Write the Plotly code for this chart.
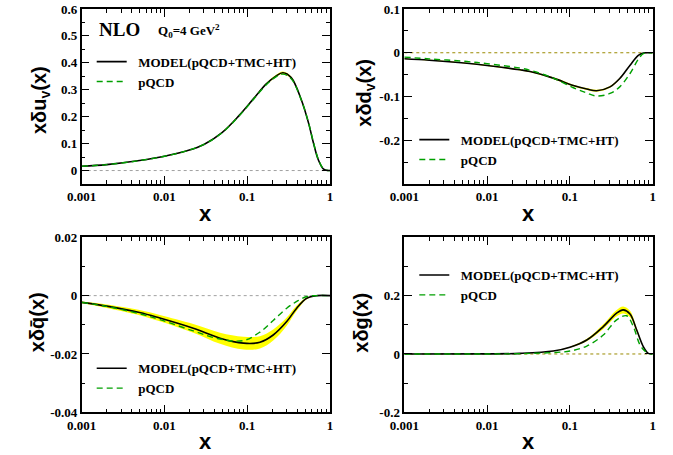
import plotly.graph_objects as go

W, H = 673, 455

# ---------------- data ----------------
# panel 1: x*delta u_v
x_u = [0.001, 0.002, 0.005, 0.01, 0.02, 0.03, 0.05, 0.08, 0.12, 0.17, 0.22, 0.27, 0.34, 0.45, 0.55, 0.63, 0.72, 0.83, 0.92, 1.0]
model_u = [0.016, 0.022, 0.037, 0.053, 0.076, 0.097, 0.142, 0.205, 0.268, 0.322, 0.350, 0.363, 0.345, 0.263, 0.177, 0.103, 0.041, 0.006, 0.0005, 0.0]
pqcd_u = [0.016, 0.022, 0.037, 0.053, 0.076, 0.097, 0.141, 0.203, 0.266, 0.319, 0.347, 0.358, 0.341, 0.262, 0.178, 0.105, 0.043, 0.007, 0.0005, 0.0]
err_u = [0.0005, 0.0006, 0.0008, 0.001, 0.0012, 0.0014, 0.0018, 0.0022, 0.0028, 0.0035, 0.004, 0.0045, 0.0045, 0.004, 0.003, 0.002, 0.0012, 0.0004, 0.0001, 0.0]

# panel 2: x*delta d_v
x_d = [0.001, 0.002, 0.0057, 0.01, 0.025, 0.033, 0.063, 0.11, 0.16, 0.21, 0.305, 0.40, 0.53, 0.67, 0.77, 0.88, 1.0]
model_d = [-0.0137, -0.017, -0.024, -0.029, -0.039, -0.043, -0.058, -0.075, -0.083, -0.087, -0.078, -0.059, -0.029, -0.006, -0.0005, 0.0, 0.0]
pqcd_d = [-0.010, -0.014, -0.020, -0.025, -0.035, -0.040, -0.058, -0.080, -0.092, -0.099, -0.093, -0.078, -0.048, -0.015, -0.002, 0.0, 0.0]
err_d = [0.0008, 0.0009, 0.001, 0.0012, 0.0014, 0.0015, 0.0018, 0.002, 0.0022, 0.0022, 0.002, 0.0018, 0.0012, 0.0005, 0.0001, 0.0, 0.0]

# panel 3: x*delta qbar
x_q = [0.001, 0.002, 0.005, 0.0088, 0.0223, 0.047, 0.09, 0.1425, 0.206, 0.30, 0.396, 0.523, 0.70, 1.0]
model_q = [-0.0023, -0.0036, -0.0058, -0.0077, -0.0112, -0.0146, -0.0163, -0.0160, -0.0135, -0.0089, -0.0043, -0.0009, 0.0, 0.0]
pqcd_q = [-0.0023, -0.0037, -0.0062, -0.0082, -0.0121, -0.0149, -0.0154, -0.0125, -0.0085, -0.0043, -0.0020, -0.0003, 0.0, 0.0]
err_q = [0.0003, 0.0006, 0.0009, 0.0011, 0.0015, 0.0019, 0.0022, 0.0021, 0.0019, 0.0014, 0.0009, 0.0003, 0.0, 0.0]

# panel 4: x*delta g
x_g = [0.001, 0.01, 0.025, 0.063, 0.10, 0.16, 0.253, 0.367, 0.44, 0.532, 0.641, 0.77, 0.885, 1.0]
model_g = [0.0, 0.0002, 0.002, 0.010, 0.023, 0.048, 0.094, 0.140, 0.151, 0.137, 0.082, 0.025, 0.002, 0.0]
err_g = [0.0, 0.0, 0.0003, 0.001, 0.002, 0.004, 0.008, 0.011, 0.012, 0.011, 0.007, 0.002, 0.0002, 0.0]
x_gp = [0.001, 0.01, 0.025, 0.063, 0.10, 0.16, 0.253, 0.367, 0.484, 0.583, 0.703, 0.82, 0.92, 1.0]
pqcd_g = [0.0, 0.0, 0.001, 0.005, 0.010, 0.027, 0.065, 0.117, 0.131, 0.094, 0.031, 0.008, 0.001, 0.0]

x_ticks = [0.001, 0.01, 0.1, 1]
x_ticktext = ["0.001", "0.01", "0.1", "1"]

panels = [
    dict(x=x_u, m=model_u, e=err_u, xp=x_u, p=pqcd_u, yr=[-0.05, 0.6],
         yt=[0, 0.1, 0.2, 0.3, 0.4, 0.5, 0.6], ytt=["0", "0.1", "0.2", "0.3", "0.4", "0.5", "0.6"],
         ym=[0.05, 0.15, 0.25, 0.35, 0.45, 0.55],
         ytitle="x\u03b4u<sub>v</sub>(x)", zc="#a0a0a0", toff=41.7, tyc=100,
         px=(81.7, 330.0), py=(9.0, 184.0), leg=62.7),
    dict(x=x_d, m=model_d, e=err_d, xp=x_d, p=pqcd_d, yr=[-0.3, 0.1],
         yt=[-0.2, -0.1, 0, 0.1], ytt=["-0.2", "-0.1", "0", "0.1"],
         ym=[-0.25, -0.15, -0.05, 0.05],
         ytitle="x\u03b4d<sub>v</sub>(x)", zc="#9a8a00", toff=38.6, tyc=93,
         px=(404.3, 652.7), py=(9.0, 184.0), leg=140.7),
    dict(x=x_q, m=model_q, e=err_q, xp=x_q, p=pqcd_q, yr=[-0.04, 0.02],
         yt=[-0.04, -0.02, 0, 0.02], ytt=["-0.04", "-0.02", "0", "0.02"],
         ym=[-0.03, -0.01, 0.01],
         ytitle="x\u03b4q\u0304(x)", zc="#a0a0a0", toff=45.0, tyc=322.5,
         px=(81.7, 330.0), py=(237.3, 412.3), leg=369.3),
    dict(x=x_g, m=model_g, e=err_g, xp=x_gp, p=pqcd_g, yr=[-0.2, 0.4],
         yt=[-0.2, 0, 0.2], ytt=["-0.2", "0", "0.2"],
         ym=[-0.1, 0.1, 0.3],
         ytitle="x\u03b4g(x)", zc="#9a8a00", toff=43.6, tyc=323,
         px=(404.3, 652.7), py=(237.3, 412.3), leg=276.0),
]

GREEN = "#00a000"
tickfont = dict(family="Liberation Serif", size=13, color="black", weight="bold")
x_minor = [m * 10 ** d for d in (-3, -2, -1) for m in range(2, 10)]

fig = go.Figure()
layout = dict(width=W, height=H, margin=dict(l=0, r=0, t=0, b=0, autoexpand=False),
              paper_bgcolor="white", plot_bgcolor="white", annotations=[])

for i, P in enumerate(panels):
    n = "" if i == 0 else str(i + 1)
    xa, ya = "x" + n, "y" + n
    lg = "legend" + n
    fig.add_trace(go.Scatter(x=[0.001, 1], y=[0, 0], mode="lines", xaxis=xa, yaxis=ya,
                             line=dict(color=P["zc"], width=1, dash="dot"), showlegend=False, hoverinfo="skip"))
    lo = [m - e for m, e in zip(P["m"], P["e"])]
    hi = [m + e for m, e in zip(P["m"], P["e"])]
    fig.add_trace(go.Scatter(x=P["x"], y=lo, mode="lines", xaxis=xa, yaxis=ya, line=dict(width=0, shape="spline", color="#ffff00"),
                             showlegend=False, hoverinfo="skip"))
    fig.add_trace(go.Scatter(x=P["x"], y=hi, mode="lines", xaxis=xa, yaxis=ya, line=dict(width=0, shape="spline", color="#ffff00"),
                             fill="tonexty", fillcolor="#ffff00", showlegend=False, hoverinfo="skip"))
    fig.add_trace(go.Scatter(x=P["x"], y=P["m"], mode="lines", xaxis=xa, yaxis=ya,
                             line=dict(color="black", width=1.6, shape="spline"),
                             name="\u00a0\u00a0MODEL(pQCD+TMC+HT)", legend=lg))
    fig.add_trace(go.Scatter(x=P["xp"], y=P["p"], mode="lines", xaxis=xa, yaxis=ya,
                             line=dict(color=GREEN, width=1.4, shape="spline", dash="6px,4px"),
                             name="\u00a0\u00a0pQCD", legend=lg))

    x0, x1 = P["px"]
    y0, y1 = P["py"]
    xdom = [x0 / W, x1 / W]
    ydom = [1 - y1 / H, 1 - y0 / H]
    common = dict(showline=True, linecolor="black", linewidth=1.5, mirror="ticks", ticks="inside",
                  tickwidth=1.3, tickcolor="black", showgrid=False, zeroline=False, tickfont=tickfont,
                  automargin=False)
    layout["xaxis" + n] = dict(common, type="log", range=[-3, 0], domain=xdom, anchor=ya, ticklen=8,
                               tickmode="array", tickvals=x_ticks, ticktext=x_ticktext,
                               minor=dict(ticks="inside", ticklen=4, tickwidth=1.2, tickcolor="black",
                                          tickmode="array", tickvals=x_minor, showgrid=False))
    layout["yaxis" + n] = dict(common, range=P["yr"], domain=ydom, anchor=xa, ticklen=8,
                               tickmode="array", tickvals=P["yt"], ticktext=P["ytt"],
                               minor=dict(ticks="inside", ticklen=4, tickwidth=1.2, tickcolor="black",
                                          tickmode="array", tickvals=P["ym"], showgrid=False))
    ly = P["leg"]
    layout[lg] = dict(x=(x0 + 10) / W, y=1 - (ly - 16) / H, xanchor="left", yanchor="top",
                      bgcolor="rgba(0,0,0,0)", borderwidth=0, itemwidth=30, tracegroupgap=0,
                      traceorder="normal",
                      font=dict(family="Liberation Serif", size=13, color="black", weight="bold"))
    layout["annotations"].append(dict(text="<b>x</b>", x=(x0 + x1) / 2 / W, y=1 - (y1 + 29) / H,
                                      xref="paper", yref="paper", showarrow=False,
                                      xanchor="center", yanchor="middle",
                                      font=dict(family="Liberation Sans", size=22, color="black")))
    layout["annotations"].append(dict(text="<b>" + P["ytitle"] + "</b>", x=(x0 - P["toff"]) / W, y=1 - P["tyc"] / H,
                                      xref="paper", yref="paper", showarrow=False, textangle=-90,
                                      xanchor="center", yanchor="middle",
                                      font=dict(family="Liberation Sans", size=20, color="black")))

layout["annotations"].append(dict(text="<b>NLO</b>", x=97 / W, y=1 - 30 / H, xref="paper", yref="paper",
                                  xanchor="left", yanchor="middle", showarrow=False,
                                  font=dict(family="Liberation Serif", size=19, color="black")))
layout["annotations"].append(dict(text="<b>Q<sub>0</sub>=4 GeV<sup>2</sup></b>", x=156 / W, y=1 - 31 / H,
                                  xref="paper", yref="paper", xanchor="left", yanchor="middle", showarrow=False,
                                  font=dict(family="Liberation Serif", size=13, color="black")))

fig.update_layout(**layout)
fig.write_html("out.html")
